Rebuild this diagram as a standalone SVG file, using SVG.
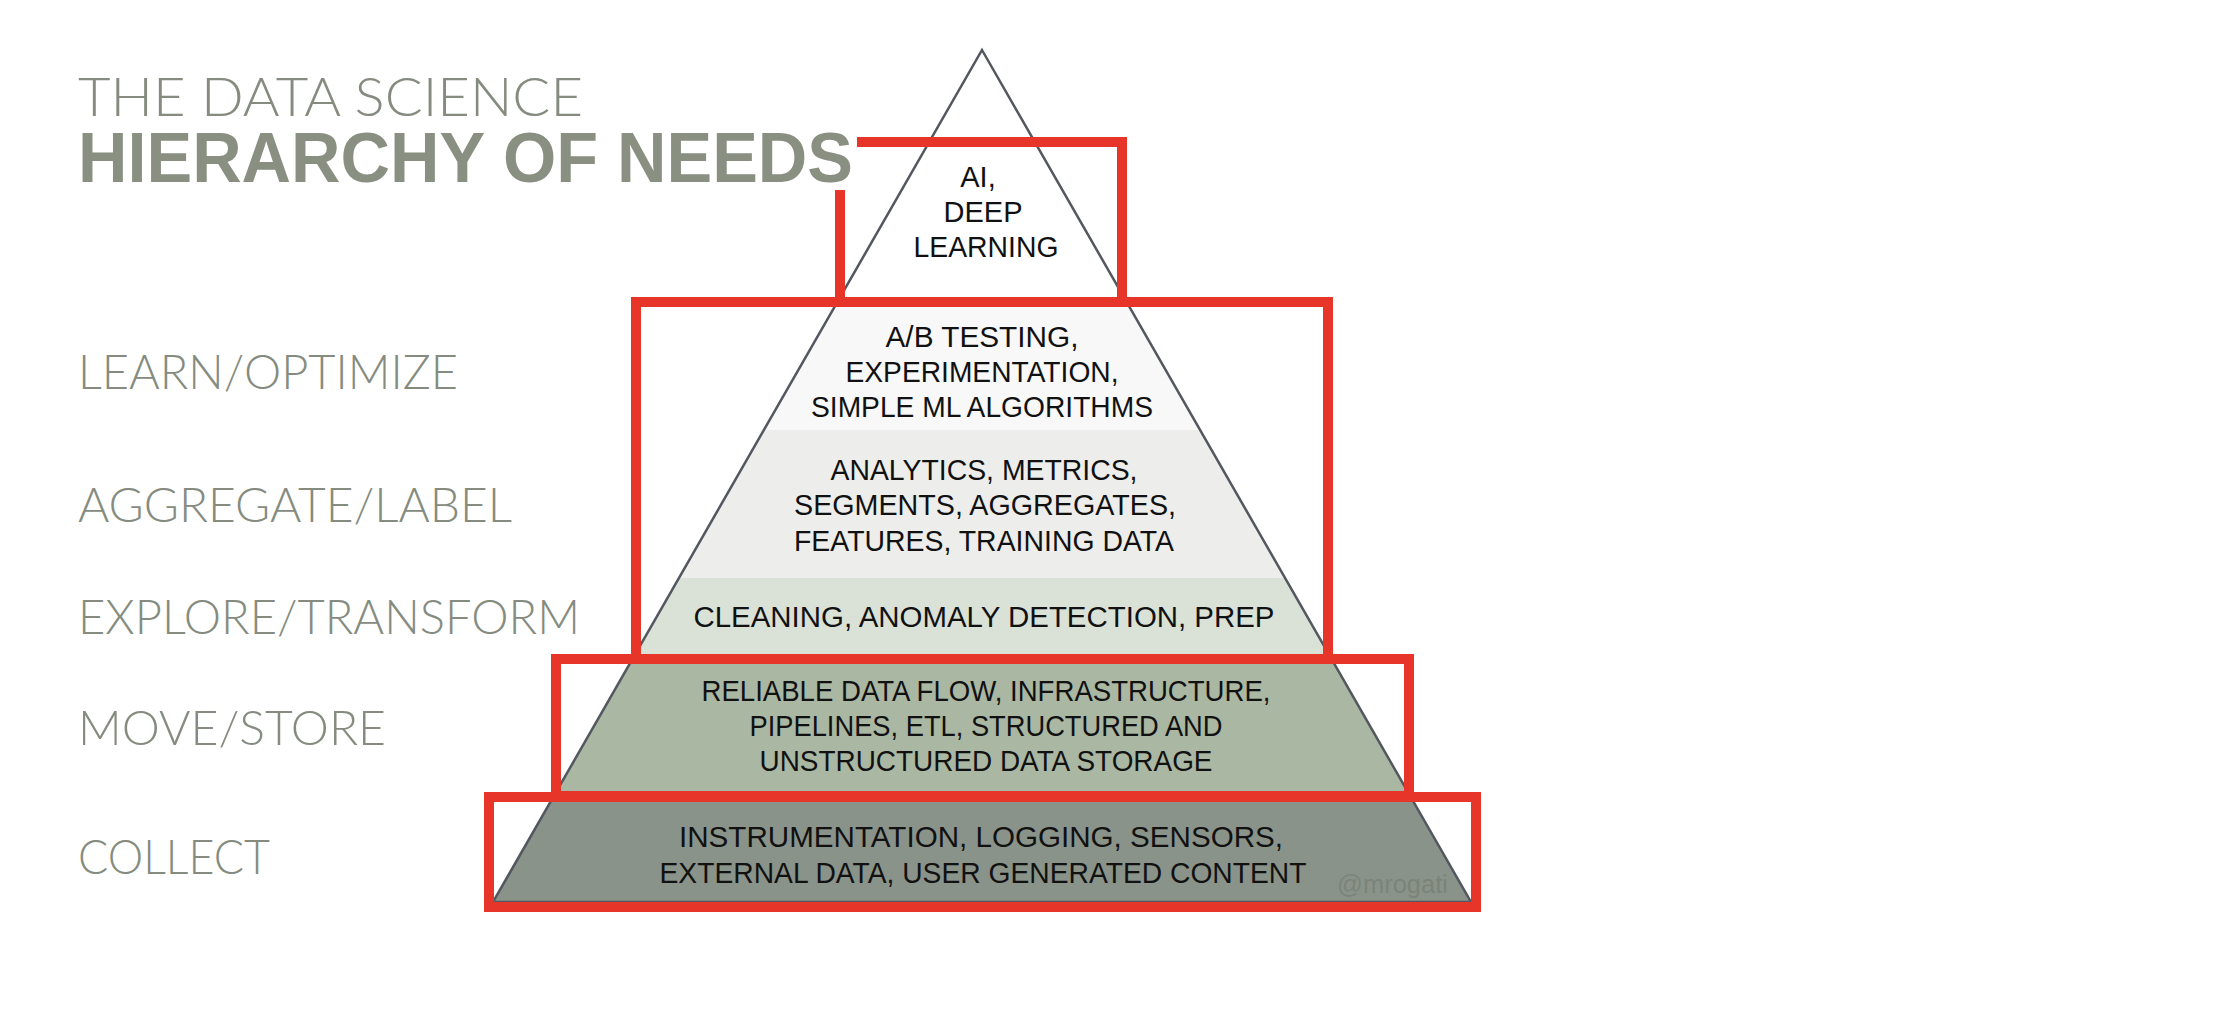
<svg xmlns="http://www.w3.org/2000/svg" width="2230" height="1014" viewBox="0 0 2230 1014">
  <defs>
    <clipPath id="pyr">
      <polygon points="982,50 1471,902 493,902"/>
    </clipPath>
    <style>
      .lbl { font-family: "Lato", "Liberation Sans", Arial, sans-serif; font-weight: 300; font-size: 48px; fill: #858c7f; }
      .t { font-family: "Liberation Sans", Arial, sans-serif; font-size: 29px; fill: #111111; text-anchor: middle; }
      .hl { fill: none; stroke: #e8352a; stroke-width: 10; stroke-linejoin: miter; }
    </style>
  </defs>
  <rect width="2230" height="1014" fill="#ffffff"/>

  <g id="title">
    <text x="78" y="116" font-family="Lato, 'Liberation Sans', Arial, sans-serif" font-weight="300" font-size="53" fill="#858c7f" textLength="505" lengthAdjust="spacingAndGlyphs">THE DATA SCIENCE</text>
    <text x="78" y="182" font-family="'Liberation Sans', Arial, sans-serif" font-weight="bold" font-size="70" fill="#899082" textLength="775" lengthAdjust="spacingAndGlyphs">HIERARCHY OF NEEDS</text>
  </g>

  <g id="labels">
    <text id="label-learn" class="lbl" x="78" y="389" textLength="380" lengthAdjust="spacingAndGlyphs">LEARN/OPTIMIZE</text>
    <text id="label-aggregate" class="lbl" x="78" y="522" textLength="434" lengthAdjust="spacingAndGlyphs">AGGREGATE/LABEL</text>
    <text id="label-explore" class="lbl" x="78" y="634" textLength="502" lengthAdjust="spacingAndGlyphs">EXPLORE/TRANSFORM</text>
    <text id="label-move" class="lbl" x="78" y="745" textLength="308" lengthAdjust="spacingAndGlyphs">MOVE/STORE</text>
    <text id="label-collect" class="lbl" x="78" y="874" textLength="192" lengthAdjust="spacingAndGlyphs">COLLECT</text>
  </g>

  <g id="pyramid">
    <g clip-path="url(#pyr)">
      <rect id="tier-ai" x="480" y="40" width="1010" height="262" fill="#ffffff"/>
      <rect id="tier-ab" x="480" y="302" width="1010" height="128" fill="#f8f8f8"/>
      <rect id="tier-analytics" x="480" y="430" width="1010" height="148" fill="#edeeeb"/>
      <rect id="tier-cleaning" x="480" y="578" width="1010" height="81" fill="#dae1d7"/>
      <rect id="tier-reliable" x="480" y="659" width="1010" height="138" fill="#aab7a3"/>
      <rect id="tier-collect" x="480" y="797" width="1010" height="110" fill="#8a9389"/>
    </g>
    <polygon points="982,50 1471,902 493,902" fill="none" stroke="#53575f" stroke-width="2.5" stroke-linejoin="miter"/>
  </g>

  <g id="node-ai">
    <text class="t" x="978" y="187">AI,</text>
    <text class="t" x="983" y="222">DEEP</text>
    <text class="t" x="986" y="257" textLength="145" lengthAdjust="spacingAndGlyphs">LEARNING</text>
  </g>
  <g id="node-ab">
    <text class="t" x="982" y="347" textLength="193" lengthAdjust="spacingAndGlyphs">A/B TESTING,</text>
    <text class="t" x="982" y="382" textLength="273" lengthAdjust="spacingAndGlyphs">EXPERIMENTATION,</text>
    <text class="t" x="982" y="417" textLength="342" lengthAdjust="spacingAndGlyphs">SIMPLE ML ALGORITHMS</text>
  </g>
  <g id="node-analytics">
    <text class="t" x="984" y="480" textLength="307" lengthAdjust="spacingAndGlyphs">ANALYTICS, METRICS,</text>
    <text class="t" x="985" y="515" textLength="382" lengthAdjust="spacingAndGlyphs">SEGMENTS, AGGREGATES,</text>
    <text class="t" x="984" y="551" textLength="380" lengthAdjust="spacingAndGlyphs">FEATURES, TRAINING DATA</text>
  </g>
  <g id="node-cleaning">
    <text class="t" x="984" y="627" textLength="581" lengthAdjust="spacingAndGlyphs">CLEANING, ANOMALY DETECTION, PREP</text>
  </g>
  <g id="node-reliable">
    <text class="t" x="986" y="701" textLength="569" lengthAdjust="spacingAndGlyphs">RELIABLE DATA FLOW, INFRASTRUCTURE,</text>
    <text class="t" x="986" y="736" textLength="473" lengthAdjust="spacingAndGlyphs">PIPELINES, ETL, STRUCTURED AND</text>
    <text class="t" x="986" y="771" textLength="453" lengthAdjust="spacingAndGlyphs">UNSTRUCTURED DATA STORAGE</text>
  </g>
  <g id="node-collect">
    <text class="t" x="981" y="847" textLength="604" lengthAdjust="spacingAndGlyphs">INSTRUMENTATION, LOGGING, SENSORS,</text>
    <text class="t" x="983" y="883" textLength="647" lengthAdjust="spacingAndGlyphs">EXTERNAL DATA, USER GENERATED CONTENT</text>
  </g>

  <text id="credit" x="1337" y="893" font-family="'Liberation Sans', Arial, sans-serif" font-size="25" fill="#7b8379" textLength="111" lengthAdjust="spacingAndGlyphs">@mrogati</text>

  <g id="connectors">
    <path id="box-top" class="hl" d="M840,190 V302 M857,142 H1122 V302"/>
    <rect id="box-learn" class="hl" x="636" y="302" width="692" height="357"/>
    <rect id="box-move" class="hl" x="556" y="659" width="853" height="137"/>
    <rect id="box-collect" class="hl" x="489" y="797" width="987" height="110"/>
  </g>
</svg>
